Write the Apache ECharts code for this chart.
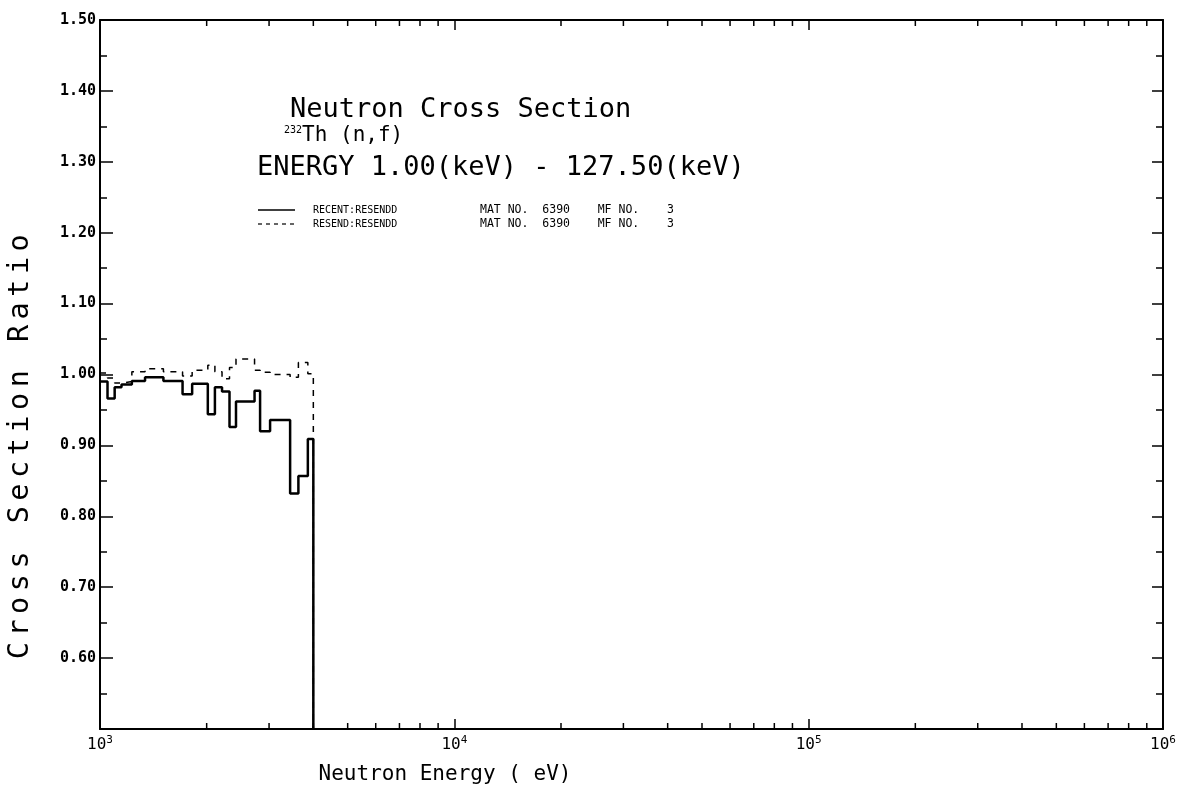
<!DOCTYPE html>
<html>
<head>
<meta charset="utf-8">
<script src="https://cdn.jsdelivr.net/npm/echarts@6/dist/echarts.min.js"></script>
<style>
html,body{margin:0;padding:0;background:#fff;}
#chart{width:1185px;height:803px;}
</style>
</head>
<body>
<div id="chart"></div>
<script>
// Bin edges (eV)
const energyEdges = [1000, 1050, 1100, 1150, 1230, 1340, 1510, 1710, 1820, 2015, 2110, 2210, 2320, 2420, 2730, 2830, 3020, 3440, 3630, 3860, 4000];
// RECENT:RESENDD ratio per bin (solid)
const recentRatio = [0.990, 0.966, 0.982, 0.986, 0.991, 0.996, 0.991, 0.972, 0.987, 0.944, 0.982, 0.976, 0.926, 0.962, 0.977, 0.920, 0.936, 0.832, 0.857, 0.909];
// RESEND:RESENDD ratio per bin (dashed)
const resendRatio = [1.002, 0.995, 0.988, 0.990, 1.004, 1.008, 1.004, 0.998, 1.006, 1.013, 1.004, 0.994, 1.010, 1.022, 1.006, 1.003, 1.000, 0.996, 1.017, 1.001];
const seriesNames = ['RECENT:RESENDD', 'RESEND:RESENDD'];
const legendInfo = ['MAT NO.  6390    MF NO.    3', 'MAT NO.  6390    MF NO.    3'];
const minorTickEnergies = [2e3,3e3,4e3,5e3,6e3,7e3,8e3,9e3,2e4,3e4,4e4,5e4,6e4,7e4,8e4,9e4,2e5,3e5,4e5,5e5,6e5,7e5,8e5,9e5];
const yMin = 0.5, yMax = 1.5, yStep = 0.1;
const xMin = 1e3, xMax = 1e6;

function steps(vals) {
  const d = vals.map((v, i) => [energyEdges[i], v]);
  d.push([energyEdges[energyEdges.length - 1], yMin]);
  return d;
}

// wide plotter-style letter spacing for the vertical axis title only
(function () {
  const proto = CanvasRenderingContext2D.prototype;
  const orig = proto.fillText;
  proto.fillText = function () {
    if ('letterSpacing' in this) {
      this.letterSpacing = (this.font.indexOf('28.5px') >= 0) ? '5.5px' : '0px';
    }
    return orig.apply(this, arguments);
  };
})();

const mono = '"DejaVu Sans Mono", monospace';
const chart = echarts.init(document.getElementById('chart'), null, {renderer: 'canvas'});

const xLabelFmt = function (v) {
  const e = Math.round(Math.log10(v));
  return '{b|10}{s|' + e + '}';
};

chart.setOption({
  backgroundColor: '#fff',
  animation: false,
  grid: {left: 100, right: 22, top: 20, bottom: 74},
  legend: {
    show: true,
    left: 251, top: 199,
    orient: 'vertical',
    itemGap: 2,
    itemWidth: 38, itemHeight: 10,
    icon: 'none',
    data: seriesNames,
    textStyle: {
      fontFamily: mono, fontSize: 10, color: '#000',
      rich: {
        a: {fontFamily: mono, fontSize: 10, width: 167, padding: [0, 0, 0, 14]},
        b: {fontFamily: mono, fontSize: 11.5}
      }
    },
    formatter: function (name) {
      const i = seriesNames.indexOf(name);
      return '{a|' + name + '}{b|' + legendInfo[i] + '}';
    }
  },
  xAxis: [{
    type: 'log', logBase: 10, min: xMin, max: xMax, position: 'bottom',
    axisLine: {show: true, onZero: false, lineStyle: {color: '#000', width: 2}},
    axisTick: {show: true, inside: true, length: 10, lineStyle: {color: '#000', width: 1.5}},
    splitLine: {show: false},
    axisLabel: {
      formatter: xLabelFmt, margin: 6, color: '#000',
      rich: {
        b: {fontFamily: mono, fontSize: 16, color: '#000', lineHeight: 20},
        s: {fontFamily: mono, fontSize: 11, color: '#000', verticalAlign: 'top', lineHeight: 12}
      }
    }
  }, {
    type: 'log', logBase: 10, min: xMin, max: xMax, position: 'top',
    axisLine: {show: true, onZero: false, lineStyle: {color: '#000', width: 2}},
    axisTick: {show: true, inside: true, length: 10, lineStyle: {color: '#000', width: 1.5}},
    splitLine: {show: false},
    axisLabel: {show: false}
  }],
  yAxis: [{
    type: 'value', min: yMin, max: yMax, interval: yStep, position: 'left',
    axisLine: {show: true, onZero: false, lineStyle: {color: '#000', width: 2}},
    axisTick: {show: true, inside: true, length: 13, lineStyle: {color: '#000', width: 1.5}},
    minorTick: {show: true, splitNumber: 2, length: 7, lineStyle: {color: '#000', width: 1.5}},
    splitLine: {show: false},
    axisLabel: {
      showMinLabel: false, margin: 4, color: '#000',
      fontFamily: mono, fontSize: 15, fontWeight: 'bold',
      formatter: v => v.toFixed(2)
    }
  }, {
    type: 'value', min: yMin, max: yMax, interval: yStep, position: 'right',
    axisLine: {show: true, onZero: false, lineStyle: {color: '#000', width: 2}},
    axisTick: {show: true, inside: true, length: 11, lineStyle: {color: '#000', width: 1.5}},
    minorTick: {show: true, splitNumber: 2, length: 7, lineStyle: {color: '#000', width: 1.5}},
    splitLine: {show: false},
    axisLabel: {show: false}
  }],
  series: [{
    name: seriesNames[0], type: 'line', step: 'end', symbol: 'none',
    data: steps(recentRatio),
    lineStyle: {color: '#000', width: 2.5, type: 'solid'},
    itemStyle: {color: '#000'},
    z: 3
  }, {
    name: seriesNames[1], type: 'line', step: 'end', symbol: 'none',
    data: steps(resendRatio),
    lineStyle: {color: '#000', width: 1.5, type: [6, 6]},
    itemStyle: {color: '#000'},
    z: 2
  }, {
    name: 'minorTicks', type: 'custom', silent: true, clip: false,
    data: minorTickEnergies.map(e => [e, yMin]),
    renderItem: function (params, api) {
      const e = api.value(0);
      const b = api.coord([e, yMin]);
      const t = api.coord([e, yMax]);
      return {
        type: 'group',
        children: [
          {type: 'line', shape: {x1: b[0], y1: b[1], x2: b[0], y2: b[1] - 6}, style: {stroke: '#000', lineWidth: 1.5}},
          {type: 'line', shape: {x1: t[0], y1: t[1], x2: t[0], y2: t[1] + 6}, style: {stroke: '#000', lineWidth: 1.5}}
        ]
      };
    }
  }],
  graphic: [
    {type: 'line', shape: {x1: 258, y1: 210, x2: 295, y2: 210}, style: {stroke: '#000', lineWidth: 1.5}},
    {type: 'line', shape: {x1: 258, y1: 224, x2: 295, y2: 224}, style: {stroke: '#000', lineWidth: 1.2, lineDash: [4, 4]}},
    {type: 'text', left: 290, top: 96, style: {text: 'Neutron Cross Section', font: '27px ' + mono, fill: '#000'}},
    {type: 'text', left: 284, top: 125, style: {
      text: '{s|232}{m|Th (n,f)}', fill: '#000',
      rich: {s: {fontFamily: mono, fontSize: 10, verticalAlign: 'top', fill: '#000'}, m: {fontFamily: mono, fontSize: 21, fill: '#000'}}
    }},
    {type: 'text', left: 257, top: 154, style: {text: 'ENERGY 1.00(keV) - 127.50(keV)', font: '27px ' + mono, fill: '#000'}},
    {type: 'text', x: 21, y: 444, rotation: Math.PI / 2, style: {text: 'Cross Section Ratio', font: '28.5px ' + mono, fill: '#000', align: 'center', verticalAlign: 'middle'}},
    {type: 'text', x: 445, y: 775, style: {text: 'Neutron Energy ( eV)', font: '21px ' + mono, fill: '#000', align: 'center', verticalAlign: 'middle'}}
  ]
});
</script>
</body>
</html>
